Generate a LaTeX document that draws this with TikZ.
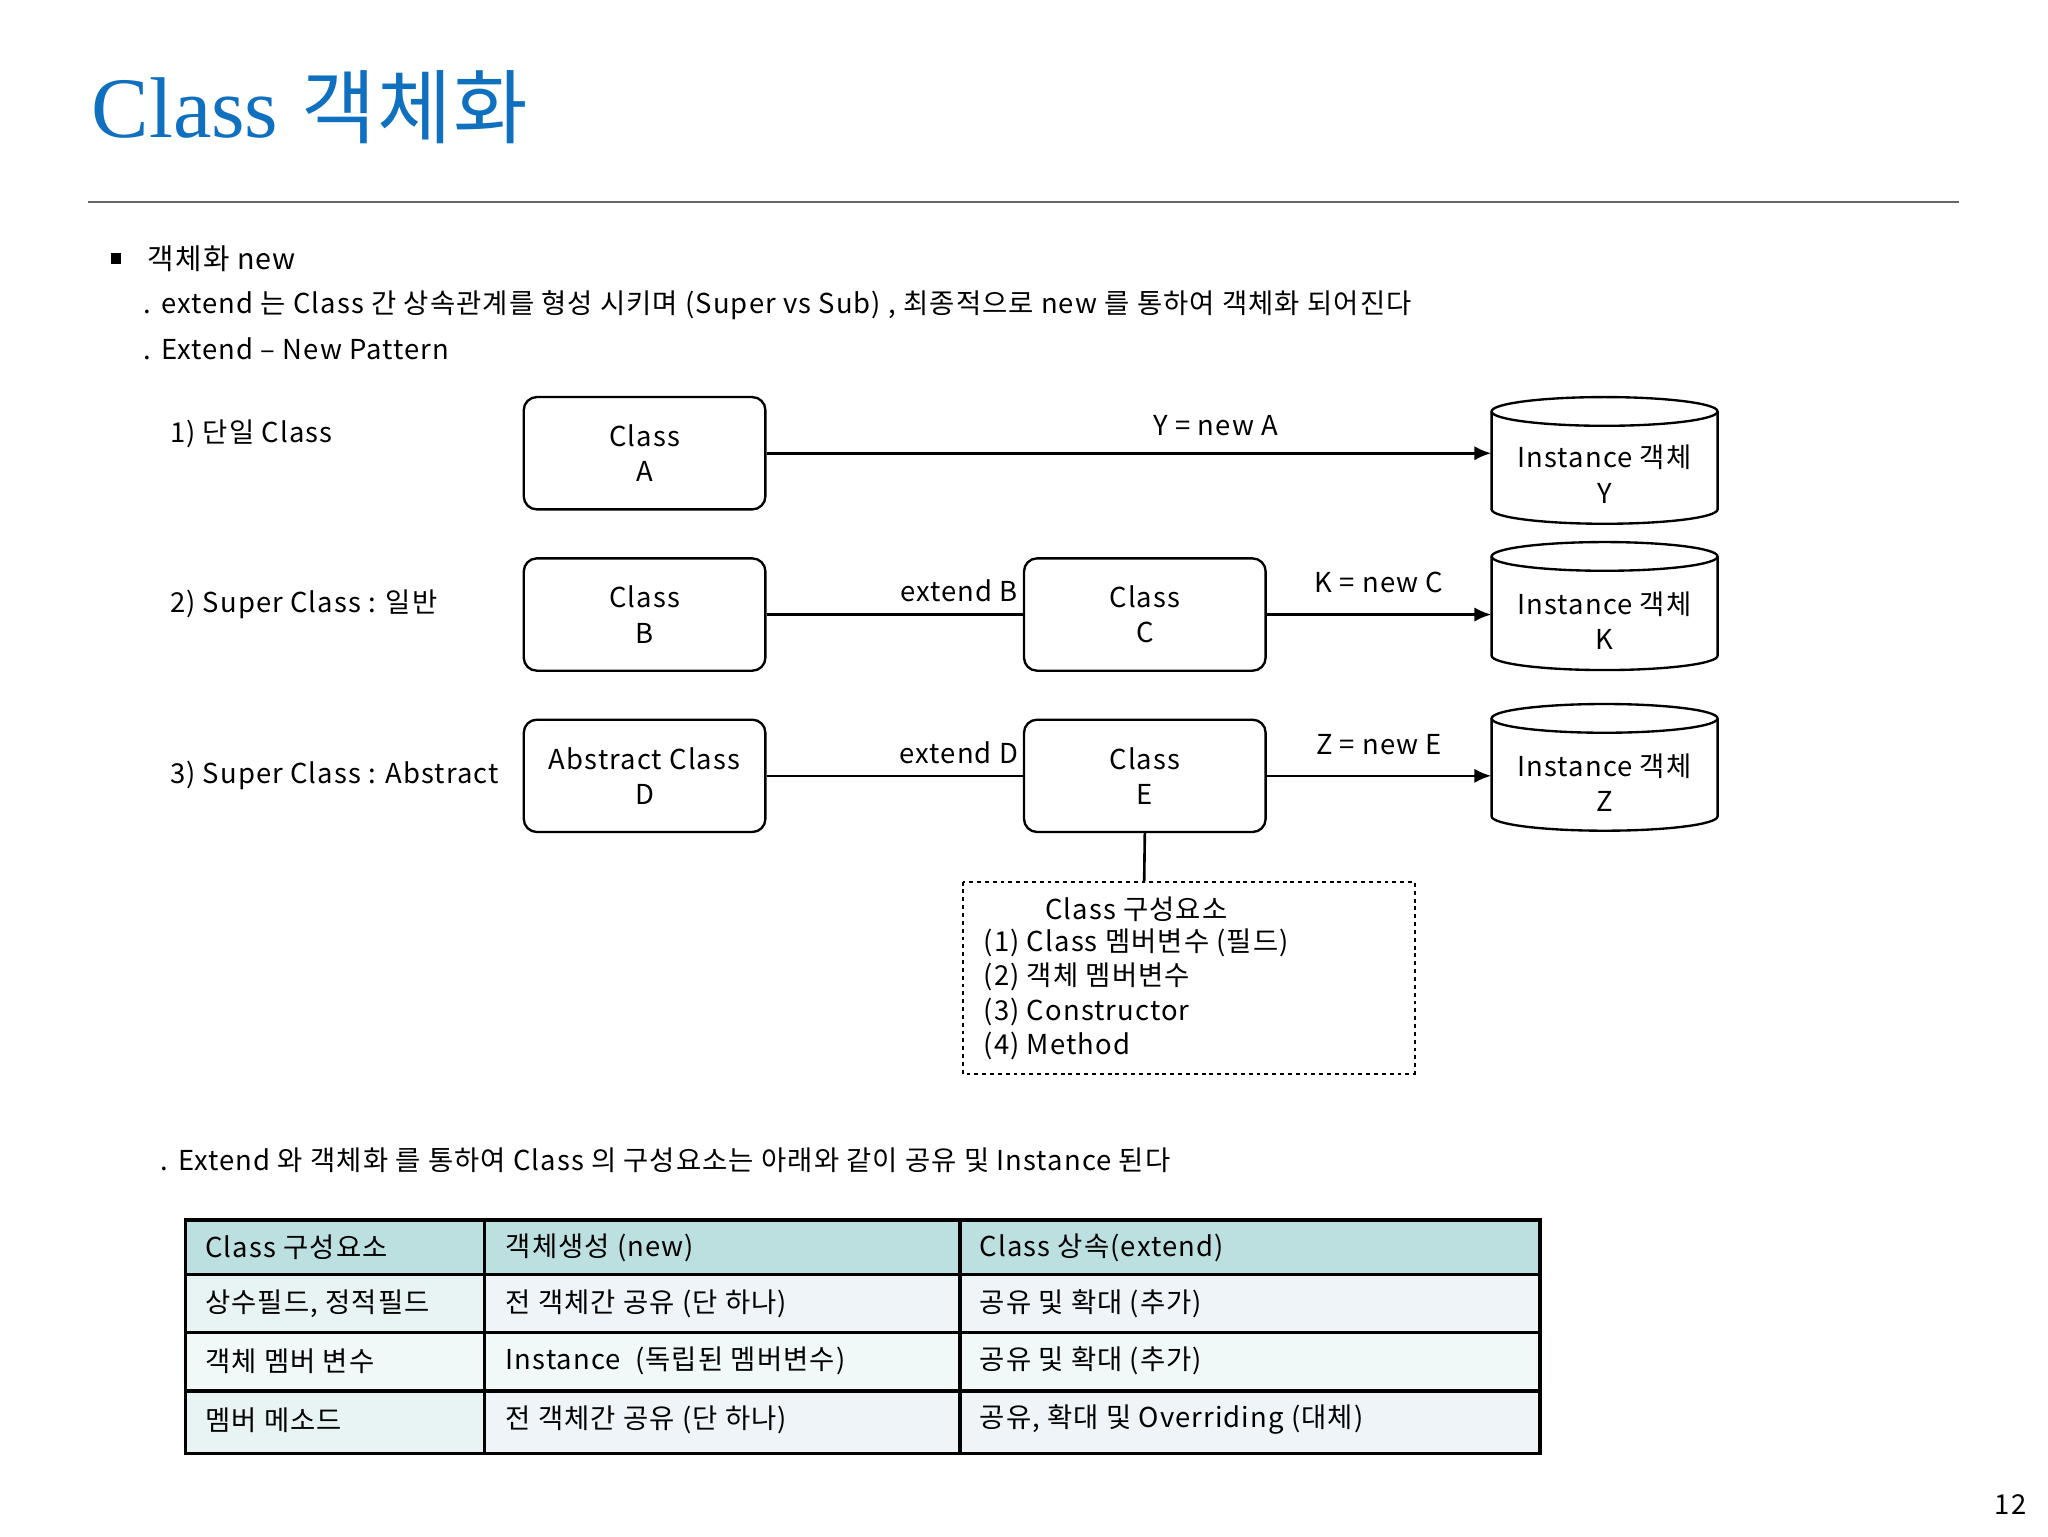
\documentclass[tikz,border=0pt]{standalone}
\usepackage{fontspec}
\setmainfont[LetterSpace=4]{Noto Sans CJK KR}
\newfontfamily\titlelat{Liberation Serif}
\newfontfamily\titlekor[LetterSpace=2]{Noto Sans CJK KR}
\usetikzlibrary{arrows.meta}
\definecolor{ttl}{HTML}{1070C0}
\definecolor{hdr}{HTML}{BCE0E0}
\definecolor{rowa}{HTML}{E8F3F3}
\definecolor{rowb}{HTML}{EEF4F8}
\tikzset{x=1pt,y=-1pt,
 txt/.style={anchor=west,inner sep=0,font=\fontsize{21}{25}\selectfont},
 cbox/.style={draw,line width=1.8pt,rounded corners=10pt,minimum width=185pt,minimum height=86pt,align=center,font=\fontsize{21}{27}\selectfont,inner sep=0},
 conn/.style={line width=2pt},
 arr/.style={line width=2pt,-{Latex[length=13pt,width=11pt]}},
 cell/.style={anchor=west,inner sep=0,font=\fontsize{21}{25}\selectfont}}
\newcommand\cyl[4]{% name, x1, top, bottom
 \pgfmathsetmacro\cx{#2+86.5}
 \fill[white] (#2,#3+11) rectangle (#2+173,#4-11);
 \draw[line width=1.8pt] (#2,#3+11) -- (#2,#4-11) arc[start angle=180,end angle=360,x radius=86.5pt,y radius=11pt] -- (#2+173,#3+11);
 \draw[line width=1.8pt] (\cx,#3+11) ellipse[x radius=86.5pt,y radius=11pt];
 \node[inner sep=0,minimum width=173pt,minimum height=#4-#3] (#1) at (\cx,{(#3+#4)/2}) {};}
\begin{document}
\begin{tikzpicture}
\useasboundingbox (0,0) rectangle (1568,1176);
\fill[white] (0,0) rectangle (1568,1176);
\node[anchor=west,inner sep=0,text=ttl,font=\fontsize{66}{70}\selectfont] (title) at (70,82) {{\titlelat Class} {\titlekor\fontsize{62}{70}\selectfont 객체화}};
\draw[gray!80!black,line width=1.5pt] (67,155) -- (1500,155);
\fill (85,194) rectangle (93,202);
\node[txt,font=\fontsize{22}{26}\selectfont] (h1) at (113,198) {객체화 new};
\node[txt] (h2) at (110,234) {. extend 는 Class 간 상속관계를 형성 시키며 (Super vs Sub) , 최종적으로 new 를 통하여 객체화 되어진다};
\node[txt] (h3) at (110,267) {. Extend – New Pattern};
\node[txt] (l1) at (130,332) {1) 단일 Class};
\node[txt] (l2) at (130,463) {2) Super Class : 일반};
\node[txt] (l3) at (130,594) {3) Super Class : Abstract};
\node[cbox] (A) at (493.5,347) {Class\\A};
\node[cbox] (B) at (493.5,470.5) {Class\\B};
\node[cbox] (C) at (876.5,470.5) {Class\\C};
\node[cbox] (D) at (493.5,594) {Abstract Class\\D};
\node[cbox] (E) at (876.5,594) {Class\\E};
\cyl{Y}{1142}{304}{401}
\cyl{K}{1142}{415}{513}
\cyl{Z}{1142}{539}{636}
\node[align=center,font=\fontsize{21}{27}\selectfont] at (1228.5,363) {Instance 객체\\Y};
\node[align=center,font=\fontsize{21}{27}\selectfont] at (1228.5,475) {Instance 객체\\K};
\node[align=center,font=\fontsize{21}{27}\selectfont] at (1228.5,599) {Instance 객체\\Z};
\draw[arr] (A.east) -- (A.east -| Y.west) node[pos=0.62,above=9pt,font=\fontsize{21}{25}\selectfont] {Y = new A};
\draw[conn] (B.east) -- (C.west) node[pos=0.75,above=5pt,font=\fontsize{21}{25}\selectfont] {extend B};
\draw[arr] (C.east) -- (C.east -| K.west) node[midway,above=12pt,font=\fontsize{21}{25}\selectfont] {K = new C};
\draw[conn] (D.east) -- (E.west) node[pos=0.75,above=5pt,font=\fontsize{21}{25}\selectfont] {extend D};
\draw[arr] (E.east) -- (E.east -| Z.west) node[midway,above=12pt,font=\fontsize{21}{25}\selectfont] {Z = new E};
\draw[dashed,line width=1.6pt] (737,675) rectangle (1083,822);
\coordinate (cb) at (876,675);
\draw[conn] (E.south) -- (cb);
\node[txt] at (800,696) {Class 구성요소};
\node[txt] at (753,722) {(1) Class 멤버변수 (필드)};
\node[txt] at (753,748) {(2) 객체 멤버변수};
\node[txt] at (753,775) {(3) Constructor};
\node[txt] at (753,801) {(4) Method};
\node[txt] at (123,888) {. Extend 와 객체화 를 통하여 Class 의 구성요소는 아래와 같이 공유 및 Instance 된다};
% table
\fill[hdr] (142,934) rectangle (1179,976);
\fill[rowa] (142,976) rectangle (371,1113);
\fill[rowb] (371,976) rectangle (1179,1113);
\fill[rowa!60!white] (142,1020) rectangle (1179,1065);
\draw[line width=2.5pt] (142,934) rectangle (1179,1113);
\foreach \yy in {976,1020,1065} \draw[line width=2.5pt] (142,\yy) -- (1179,\yy);
\foreach \xx in {371,735} \draw[line width=2.5pt] (\xx,934) -- (\xx,1113);
\node[cell] at (157,955) {Class 구성요소};
\node[cell] at (387,955) {객체생성 (new)};
\node[cell] at (750,955) {Class 상속(extend)};
\node[cell] at (157,998) {상수필드, 정적필드};
\node[cell] at (387,998) {전 객체간 공유 (단 하나)};
\node[cell] at (750,998) {공유 및 확대 (추가)};
\node[cell] at (157,1042) {객체 멤버 변수};
\node[cell] at (387,1042) {Instance \ (독립된 멤버변수)};
\node[cell] at (750,1042) {공유 및 확대 (추가)};
\node[cell] at (157,1087) {멤버 메소드};
\node[cell] at (387,1087) {전 객체간 공유 (단 하나)};
\node[cell] at (750,1087) {공유, 확대 및 Overriding (대체)};
\node[txt] at (1527,1152) {12};
\end{tikzpicture}
\end{document}
